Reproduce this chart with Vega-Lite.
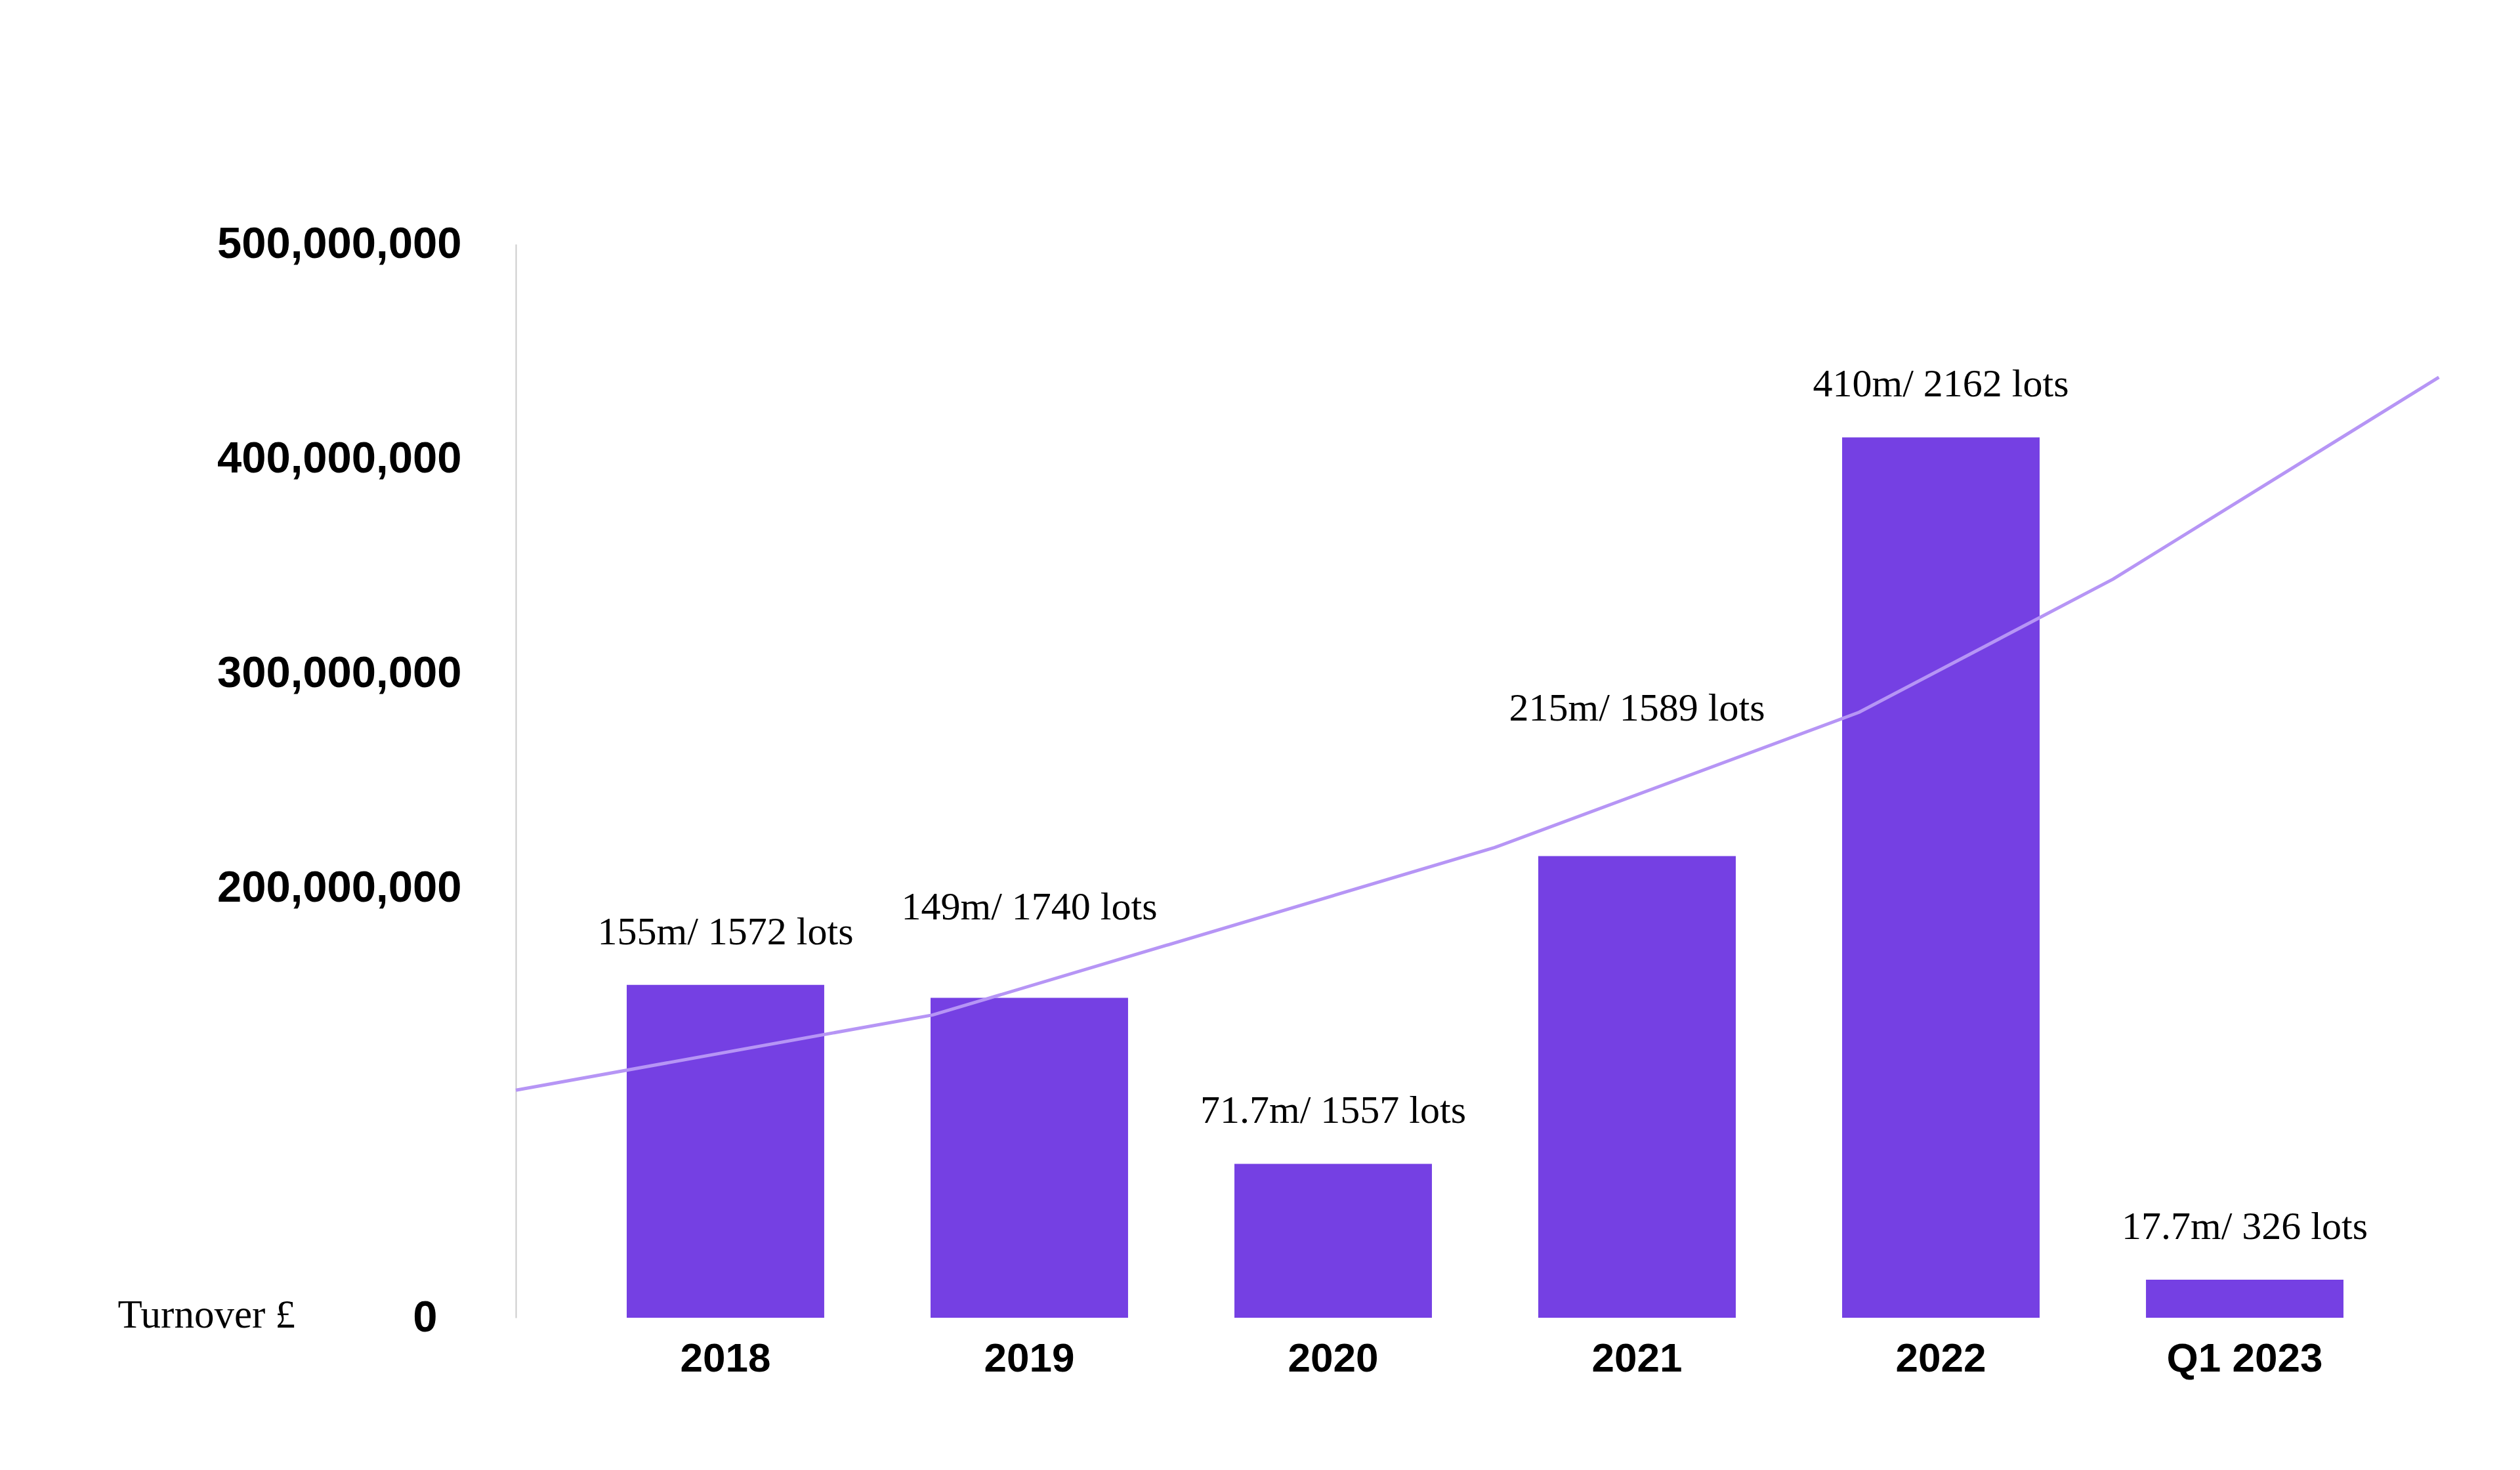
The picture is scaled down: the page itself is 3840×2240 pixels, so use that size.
{
  "$schema": "https://vega.github.io/schema/vega-lite/v6.json",
  "width": 2954,
  "height": 1636,
  "autosize": {"type": "none"},
  "padding": {"left": 786, "top": 372, "right": 100, "bottom": 232},
  "background": "white",
  "config": {"view": {"stroke": null}},
  "datasets": {
    "bars": [
      {"period": "2018", "turnover": 155000000, "label": "155m/ 1572 lots"},
      {"period": "2019", "turnover": 149000000, "label": "149m/ 1740 lots"},
      {"period": "2020", "turnover": 71700000, "label": "71.7m/ 1557 lots"},
      {"period": "2021", "turnover": 215000000, "label": "215m/ 1589 lots"},
      {"period": "2022", "turnover": 410000000, "label": "410m/ 2162 lots"},
      {"period": "Q1 2023", "turnover": 17700000, "label": "17.7m/ 326 lots"}
    ],
    "trend": [
      {"t": 0.0, "turnover": 106000000},
      {"t": 0.215, "turnover": 141000000},
      {"t": 0.505, "turnover": 219000000},
      {"t": 0.693, "turnover": 282000000},
      {"t": 0.824, "turnover": 344000000},
      {"t": 0.992, "turnover": 438000000}
    ]
  },
  "layer": [
    {
      "data": {"name": "bars"},
      "encoding": {
        "x": {
          "field": "period",
          "type": "nominal",
          "sort": null,
          "title": null,
          "scale": {"paddingInner": 0.35, "paddingOuter": 0.365},
          "axis": {
            "labelAngle": 0,
            "labelLimit": 0,
            "labelFont": "Liberation Sans",
            "labelFontWeight": "bold",
            "labelFontSize": 62,
            "labelColor": "#000000",
            "labelPadding": 32,
            "domain": false,
            "ticks": false
          }
        },
        "y": {
          "field": "turnover",
          "type": "quantitative",
          "scale": {"domain": [0, 500000000], "nice": false},
          "axis": {
            "values": [0, 200000000, 300000000, 400000000, 500000000],
            "format": ",d",
            "grid": false,
            "ticks": false,
            "domain": true,
            "domainColor": "#cccccc",
            "domainWidth": 2,
            "labelLimit": 0,
            "labelFont": "Liberation Sans",
            "labelFontWeight": "bold",
            "labelFontSize": 67,
            "labelColor": "#000000",
            "labelPadding": {"condition": {"test": "datum.value == 0", "value": 120}, "value": 83},
            "labelBaseline": "middle",
            "title": "Turnover £",
            "titleAngle": 0,
            "titleAlign": "left",
            "titleBaseline": "middle",
            "titleX": -607,
            "titleY": 1632,
            "titleFont": "Liberation Serif",
            "titleFontWeight": "normal",
            "titleFontSize": 61,
            "titleColor": "#000000",
            "titleLimit": 0
          }
        }
      },
      "layer": [
        {"mark": {"type": "bar", "color": "#7540E3"}},
        {
          "transform": [{"filter": "datum.period != '2019' && datum.period != '2021'"}],
          "mark": {"type": "text", "font": "Liberation Serif", "fontSize": 60, "color": "#000000", "baseline": "middle", "dy": -80},
          "encoding": {"text": {"field": "label"}}
        },
        {
          "transform": [{"filter": "datum.period == '2019'"}],
          "mark": {"type": "text", "font": "Liberation Serif", "fontSize": 60, "color": "#000000", "baseline": "middle", "dy": -137},
          "encoding": {"text": {"field": "label"}}
        },
        {
          "transform": [{"filter": "datum.period == '2021'"}],
          "mark": {"type": "text", "font": "Liberation Serif", "fontSize": 60, "color": "#000000", "baseline": "middle", "dy": -225},
          "encoding": {"text": {"field": "label"}}
        }
      ]
    },
    {
      "data": {"name": "trend"},
      "mark": {"type": "line", "color": "#b695f5", "strokeWidth": 5},
      "encoding": {
        "x": {"field": "t", "type": "quantitative", "scale": {"domain": [0, 1], "nice": false, "zero": false}, "axis": null},
        "y": {"field": "turnover", "type": "quantitative"}
      }
    }
  ],
  "resolve": {"scale": {"x": "independent"}}
}
